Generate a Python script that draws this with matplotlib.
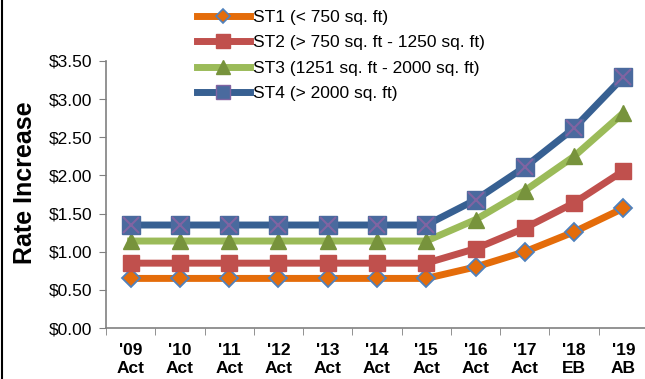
import matplotlib.pyplot as plt
from matplotlib.lines import Line2D

plt.rcParams["font.family"] = ["Liberation Sans", "DejaVu Sans"]

years = ["'09\nAct", "'10\nAct", "'11\nAct", "'12\nAct", "'13\nAct", "'14\nAct",
         "'15\nAct", "'16\nAct", "'17\nAct", "'18\nEB", "'19\nAB"]

st1 = [0.65, 0.65, 0.65, 0.65, 0.65, 0.65, 0.65, 0.80, 1.00, 1.26, 1.57]
st2 = [0.85, 0.85, 0.85, 0.85, 0.85, 0.85, 0.85, 1.04, 1.31, 1.64, 2.06]
st3 = [1.14, 1.14, 1.14, 1.14, 1.14, 1.14, 1.14, 1.42, 1.80, 2.25, 2.82]
st4 = [1.35, 1.35, 1.35, 1.35, 1.35, 1.35, 1.35, 1.68, 2.11, 2.62, 3.29]

labels = ["ST1 (< 750 sq. ft)", "ST2 (> 750 sq. ft - 1250 sq. ft)",
          "ST3 (1251 sq. ft - 2000 sq. ft)", "ST4 (> 2000 sq. ft)"]

fig = plt.figure(figsize=(6.45, 3.79), dpi=100)
ax = fig.add_axes([106 / 645, 1 - 328 / 379, 542 / 645, 267 / 379])

x = list(range(len(years)))
lw = 5

ax.plot(x, st1, color="#E46C0A", lw=lw, marker="D", ms=9.5,
        mfc="#E46C0A", mec="#4F81BD", mew=1.3, zorder=3)
ax.plot(x, st2, color="#C0504D", lw=lw, marker="s", ms=11.5,
        mfc="#C0504D", mec="#C0504D", zorder=3)
ax.plot(x, st3, color="#9BBB59", lw=lw, marker="^", ms=12,
        mfc="#77933C", mec="#77933C", zorder=3)
ax.plot(x, st4, color="#376092", lw=lw, marker="s", ms=13,
        mfc="#4A6A9E", mec="#4A6A9E", zorder=3)
ax.plot(x, st4, ls="none", marker="x", ms=11, mec="#8064A2", mew=1.5, zorder=4)

ax.set_xlim(-0.5, 10.5)
ax.set_ylim(0, 3.5)
ax.set_yticks([0, 0.5, 1.0, 1.5, 2.0, 2.5, 3.0, 3.5])
ax.set_yticklabels([f"${v:.2f}" for v in ax.get_yticks()], fontsize=12.5)
ax.set_xticks(x)
ax.set_xticklabels(years, fontsize=12.5, fontweight="bold", linespacing=1.25)
ax.set_xticks([i - 0.5 for i in range(12)], minor=True)
ax.tick_params(axis="x", which="major", length=0, pad=11)
ax.tick_params(axis="x", which="minor", length=5, color="#808080", direction="out")
ax.tick_params(axis="y", length=5, color="#808080", pad=5)

for s in ["top", "right"]:
    ax.spines[s].set_visible(False)
for s in ["left", "bottom"]:
    ax.spines[s].set_color("#808080")
    ax.spines[s].set_linewidth(1.2)

ax.set_ylabel("Rate Increase", fontsize=18, fontweight="bold")
ax.yaxis.set_label_coords(-0.128, 0.545)

handles = [
    Line2D([], [], color="#E46C0A", lw=lw, marker="D", ms=7.5, mfc="#E46C0A", mec="#4F81BD", mew=1.2),
    Line2D([], [], color="#C0504D", lw=lw, marker="s", ms=9.5, mfc="#C0504D", mec="#C0504D"),
    Line2D([], [], color="#9BBB59", lw=lw, marker="^", ms=9.5, mfc="#77933C", mec="#77933C"),
    Line2D([], [], color="#376092", lw=lw, marker="s", ms=9.5, mfc="#4A6A9E", mec="#8064A2"),
]
fig.legend(handles, labels, loc="upper left", bbox_to_anchor=(197 / 645, 1 - 10 / 379),
           frameon=False, fontsize=12.5, handlelength=3.05, handletextpad=0.15,
           labelspacing=0.58, borderpad=0, borderaxespad=0)

fig.add_artist(Line2D([2 / 645, 2 / 645], [0, 1], color="black", lw=1.5))

fig.savefig("out.png", dpi=100)
